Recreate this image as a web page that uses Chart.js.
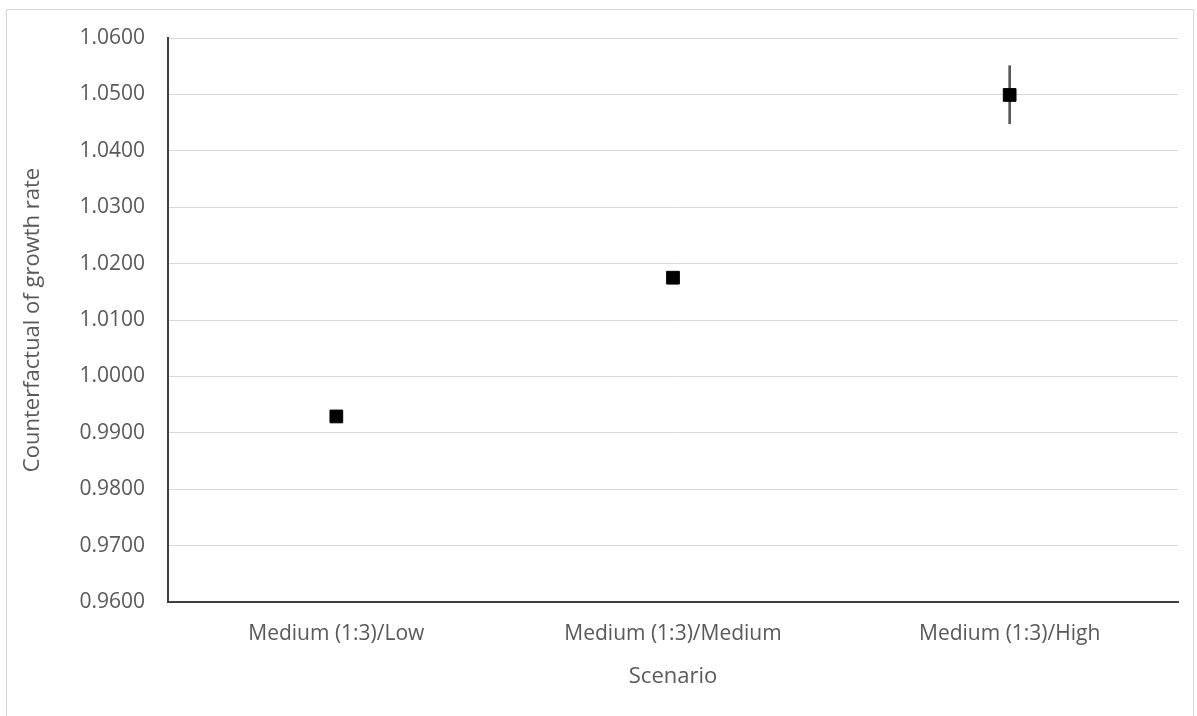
<!DOCTYPE html>
<html>
<head>
<meta charset="utf-8">
<script src="https://cdn.jsdelivr.net/npm/chart.js@4"></script>
<style>
    body { margin: 0; background: #fff; }
    #frame { position: absolute; left: 6px; top: 9px; width: 1186px; height: 720px; border: 1px solid #d9d9d9; }
    #wrap { position: absolute; left: 0; top: 0; width: 1197px; height: 716px; }
</style>
</head>
<body>
<div id="frame"></div>
<div id="wrap"><canvas id="chart"></canvas></div>
<script>
// chart values
const scenarios = ['Medium (1:3)/Low', 'Medium (1:3)/Medium', 'Medium (1:3)/High'];
const growthRate = [0.9929, 1.0175, 1.0499];
const errLow = [null, null, 1.0448];
const errHigh = [null, null, 1.0551];
const yMin = 0.96, yMax = 1.06, yStep = 0.01;

const errorRanges = errLow.map((lo, i) => (lo === null ? null : [lo, errHigh[i]]));

const tickFont = { family: 'Open Sans', size: 21 };
const titleFont = { family: 'Open Sans', size: 22 };

new Chart(document.getElementById('chart'), {
    type: 'bar',
    data: {
        labels: scenarios,
        datasets: [
            {
                type: 'line',
                label: 'Counterfactual',
                data: growthRate,
                showLine: false,
                pointStyle: 'rect',
                pointRadius: 9,
                pointBorderWidth: 1,
                pointBackgroundColor: '#000',
                pointBorderColor: '#000',
                order: 1
            },
            {
                label: 'Error',
                data: errorRanges,
                backgroundColor: '#595959',
                barThickness: 2,
                order: 2
            }
        ]
    },
    options: {
        responsive: true,
        maintainAspectRatio: false,
        animation: false,
        layout: { padding: { top: 38, right: 19, left: 0, bottom: 0 } },
        plugins: { legend: { display: false }, tooltip: { enabled: false } },
        scales: {
            x: {
                grid: { display: false, drawTicks: false },
                border: { color: '#404040', width: 2 },
                ticks: { color: '#595959', font: tickFont, padding: 19, maxRotation: 0 },
                title: { display: true, text: 'Scenario', color: '#595959', font: titleFont, padding: { top: 4, bottom: 26 } },
                afterFit: s => { s.height = 114; }
            },
            y: {
                min: yMin,
                max: yMax,
                grid: { color: '#d9d9d9', lineWidth: 1, drawTicks: false },
                border: { color: '#404040', width: 2 },
                ticks: { stepSize: yStep, color: '#595959', font: tickFont, padding: 23, callback: v => v.toFixed(4) },
                title: { display: true, text: 'Counterfactual of growth rate', color: '#595959', font: titleFont, padding: { top: 20, bottom: 0 } },
                afterFit: s => { s.width = 168; }
            }
        }
    }
});
</script>
</body>
</html>
